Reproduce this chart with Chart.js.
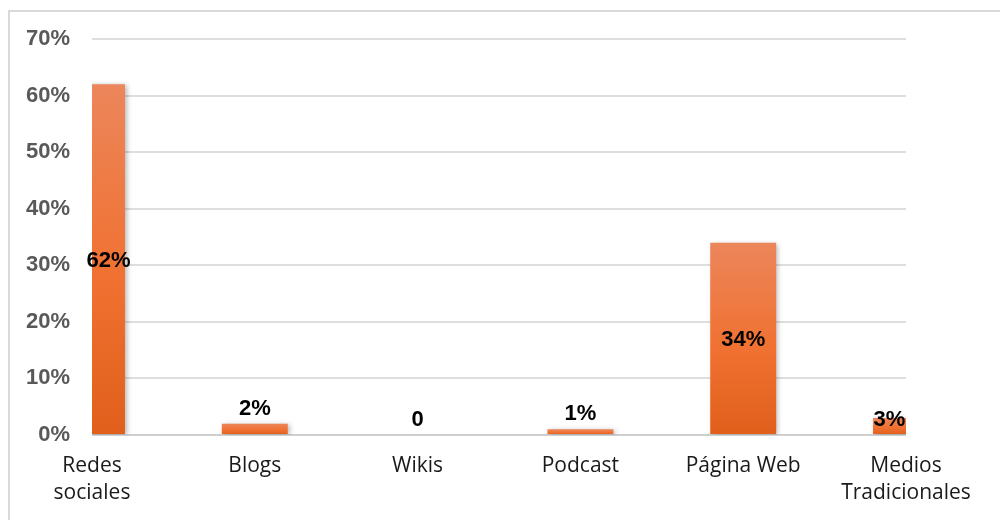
<!DOCTYPE html>
<html>
<head>
<meta charset="utf-8">
<script src="https://cdn.jsdelivr.net/npm/chart.js@4/dist/chart.umd.min.js"></script>
<style>
  html, body { margin: 0; padding: 0; background: #fff; overflow: hidden; }
  .frame {
    position: absolute; left: 8px; top: 10px; width: 1000px; height: 520px;
    border: 2px solid #d9d9d9; box-sizing: border-box;
  }
  .wrap { position: absolute; left: 0; top: 0; width: 1000px; height: 520px; }
</style>
</head>
<body>
<div class="frame"></div>
<div class="wrap"><canvas id="sources-chart"></canvas></div>
<script>
const categories = [["Redes", "sociales"], "Blogs", "Wikis", "Podcast", "Página Web", ["Medios", "Tradicionales"]];
const shares = [62, 2, 0, 1, 34, 3];
const yTicks = [0, 10, 20, 30, 40, 50, 60, 70];

// where each value label sits relative to its bar
const labelPlacement = ["center", "above", "above", "above", "center", "top"];

const labelFont = "bold 22px 'Liberation Sans', Arial, sans-serif";

function barFill(ctx) {
  const chart = ctx.chart;
  if (!chart.chartArea || ctx.raw == null) return "#EE7232";
  const y = chart.scales.y;
  const top = y.getPixelForValue(ctx.raw);
  const base = y.getPixelForValue(0);
  if (Math.abs(base - top) < 1) return "#EE7232";
  const g = chart.ctx.createLinearGradient(0, top, 0, base);
  g.addColorStop(0, "#EC865B");
  g.addColorStop(0.55, "#F07131");
  g.addColorStop(1, "#E05F1B");
  return g;
}

// soft drop shadow behind the bars
const barShadow = {
  id: "barShadow",
  beforeDatasetsDraw(chart) {
    const c = chart.ctx;
    c.save();
    c.shadowColor = "rgba(0,0,0,0.28)";
    c.shadowBlur = 5;
    c.shadowOffsetX = 2;
    c.shadowOffsetY = 1;
  },
  afterDatasetsDraw(chart) {
    chart.ctx.restore();
  },
};

// value labels on or above the bars
const valueLabels = {
  id: "valueLabels",
  afterDatasetsDraw(chart) {
    const c = chart.ctx;
    const area = chart.chartArea;
    const meta = chart.getDatasetMeta(0);
    c.save();
    c.font = labelFont;
    c.fillStyle = "#000";
    c.textAlign = "center";
    c.textBaseline = "middle";
    meta.data.forEach((bar, i) => {
      const v = shares[i];
      const left = Math.max(bar.x - bar.width / 2, area.left);
      const right = Math.min(bar.x + bar.width / 2, area.right);
      const cx = (left + right) / 2;
      let cy;
      const where = labelPlacement[i];
      if (where === "center") cy = (bar.y + bar.base) / 2 + 2;
      else if (where === "top") cy = bar.y + 2;
      else cy = bar.y - 15;
      c.fillText(v === 0 ? "0" : v + "%", cx, cy);
    });
    c.restore();
  },
};

new Chart(document.getElementById("sources-chart"), {
  type: "bar",
  data: {
    labels: categories,
    datasets: [{
      data: shares,
      backgroundColor: barFill,
      borderWidth: 0,
      categoryPercentage: 1,
      barPercentage: 0.405,
      clip: 0,
    }],
  },
  options: {
    responsive: true,
    maintainAspectRatio: false,
    animation: false,
    layout: { padding: { top: 39, right: 94, bottom: 0, left: 0 } },
    plugins: { legend: { display: false }, tooltip: { enabled: false } },
    scales: {
      x: {
        offset: false,
        grid: { display: false, drawTicks: false },
        border: { display: false },
        ticks: {
          color: "#1a1a1a",
          padding: 17,
          maxRotation: 0,
          autoSkip: false,
          font: { family: "'Open Sans', sans-serif", size: 21, lineHeight: 1.3 },
        },
        afterFit(scale) { scale.height = 85; },
      },
      y: {
        min: 0,
        max: 70,
        afterBuildTicks(scale) { scale.ticks = yTicks.map((v) => ({ value: v })); },
        grid: {
          drawTicks: false,
          lineWidth: 2,
          color: (ctx) => (ctx.tick && ctx.tick.value === 0 ? "#cfcfcf" : "#dedede"),
        },
        border: { display: false },
        ticks: {
          color: "#595959",
          padding: 22,
          callback: (v) => v + "%",
          font: { family: "'Liberation Sans', Arial, sans-serif", size: 22, weight: "bold" },
        },
        afterFit(scale) { scale.width = 92; },
      },
    },
  },
  plugins: [barShadow, valueLabels],
});
</script>
</body>
</html>
